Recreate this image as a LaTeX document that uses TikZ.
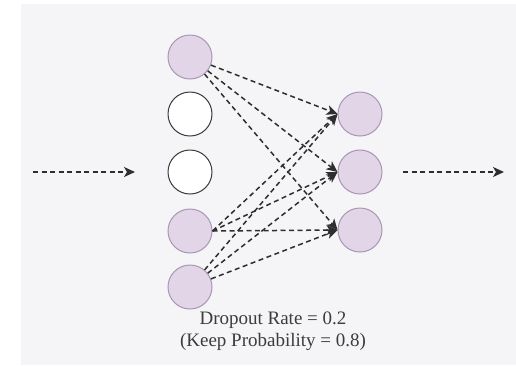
\documentclass[tikz,border=0pt]{standalone}
\usepackage{fontspec}
\setmainfont{Liberation Serif}
\usetikzlibrary{arrows.meta}
\definecolor{bgfill}{HTML}{F5F5F7}
\definecolor{keepfill}{HTML}{E1D5E7}
\definecolor{keepline}{HTML}{A996B4}
\definecolor{dropline}{HTML}{3A3A3A}
\definecolor{wire}{HTML}{2E2E2E}
\definecolor{labeltext}{HTML}{3C3C3C}
\begin{document}
\begin{tikzpicture}[x=1pt,y=-1pt,
  neuron/.style={circle, minimum size=44pt, inner sep=0pt, line width=1pt},
  kept/.style={neuron, fill=keepfill, draw=keepline},
  dropped/.style={neuron, fill=white, draw=dropline},
  link/.style={draw=wire, line width=1.5pt, dash pattern=on 5pt off 3.5pt,
    -{Stealth[length=11pt,width=10pt,inset=3pt]}}]
\useasboundingbox (0,0) rectangle (516,365);
\fill[bgfill] (21,4) rectangle (516,365);

% input layer (two units dropped)
\node[kept]    (l1) at (190,57)  {};
\node[dropped] (l2) at (190,114) {};
\node[dropped] (l3) at (190,172) {};
\node[kept]    (l4) at (190,231) {};
\node[kept]    (l5) at (190,287) {};

% next layer
\node[kept] (r1) at (360,114) {};
\node[kept] (r2) at (360,172) {};
\node[kept] (r3) at (360,230) {};

% incoming and outgoing signal
\coordinate (inA)  at (33,172);
\coordinate (inB)  at (135,172);
\coordinate (outA) at (403,172);
\coordinate (outB) at (504,172);
\draw[link] (inA) -- (inB);
\draw[link] (outA) -- (outB);

% connections from the kept units only
\foreach \t in {r1,r2,r3} {
  \draw[link] (l1) -- (\t.west);
  \draw[link] (l4.east) -- (\t.west);
  \draw[link] (l5) -- (\t.west);
}

\node[text=labeltext, font=\fontsize{19}{22}\selectfont, align=center]
  (rate) at (273,331) {Dropout Rate = 0.2\\(Keep Probability = 0.8)};
\end{tikzpicture}
\end{document}
